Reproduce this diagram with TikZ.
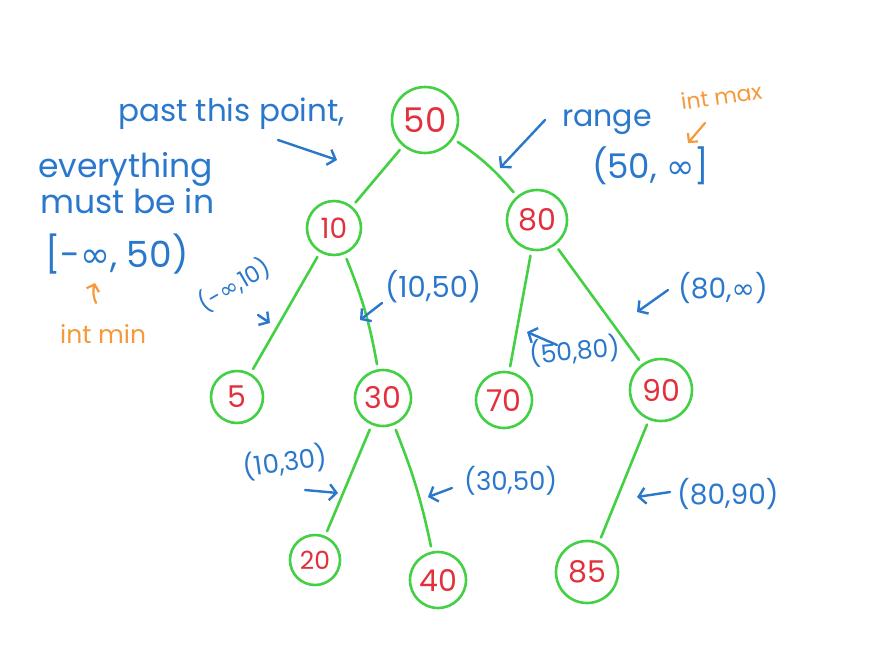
\documentclass[tikz,border=0pt]{standalone}
\usepackage{fontspec}
\setmainfont{Poppins}
\newfontfamily\symfont{DejaVu Sans}
\newcommand{\infsym}{{\symfont ∞}}
\usetikzlibrary{arrows.meta}
\definecolor{tgreen}{HTML}{44D044}
\definecolor{tred}{HTML}{E2303C}
\definecolor{tblue}{HTML}{2A78CC}
\definecolor{torange}{HTML}{F49A3C}
\newcommand{\fsz}[1]{\fontsize{#1}{#1}\selectfont}
\tikzset{
  bst/.style={circle, draw=tgreen, line width=2.6pt, text=tred, inner sep=0pt},
  edge/.style={draw=tgreen, line width=2.6pt, line cap=round, shorten <=5pt, shorten >=5pt},
  note/.style={text=tblue, inner sep=0pt},
  onote/.style={text=torange, inner sep=0pt},
  barrow/.style={draw=tblue, line width=2.4pt, line cap=round, -{Straight Barb[length=7pt,width=16pt]}},
  oarrow/.style={draw=torange, line width=2.2pt, line cap=round, -{Straight Barb[length=6pt,width=13pt]}}
}
\begin{document}
\begin{tikzpicture}[x=1pt,y=1pt]
\useasboundingbox (0,0) rectangle (880,-656);
\fill[white] (0,0) rectangle (880,-656);
% tree nodes
\node[bst, minimum size=66pt, font=\fsz{34}] (n50) at (425,-120) {50};
\node[bst, minimum size=54pt, font=\fsz{28}] (n10) at (334,-228) {10};
\node[bst, minimum size=60pt, font=\fsz{30}] (n80) at (537,-220) {80};
\node[bst, minimum size=52pt, font=\fsz{30}] (n5) at (237,-397) {5};
\node[bst, minimum size=56pt, font=\fsz{30}] (n30) at (383,-398) {30};
\node[bst, minimum size=56pt, font=\fsz{30}] (n70) at (504,-400) {70};
\node[bst, minimum size=62pt, font=\fsz{30}] (n90) at (661,-390) {90};
\node[bst, minimum size=50pt, font=\fsz{25}] (n20) at (315,-560) {20};
\node[bst, minimum size=56pt, font=\fsz{30}] (n40) at (438,-580) {40};
\node[bst, minimum size=62pt, font=\fsz{30}] (n85) at (587,-572) {85};
% edges
\draw[edge] (n50) -- (n10);
\draw[edge] (n50) to[bend left=8] (n80);
\draw[edge] (n10) -- (n5);
\draw[edge] (n10) to[bend left=6] (n30);
\draw[edge] (n80) -- (n70);
\draw[edge] (n80) -- (n90);
\draw[edge] (n30) -- (n20);
\draw[edge] (n30) to[bend left=5] (n40);
\draw[edge] (n90) -- (n85);
% left notes
\node[note, anchor=base west, font=\fsz{31}] (t1) at (118,-121) {past this point,};
\node[note, anchor=base west, font=\fsz{33}] (t2) at (38,-177) {everything};
\node[note, anchor=base west, font=\fsz{33}] (t3) at (40,-213) {must be in};
\node[note, anchor=base west, font=\fsz{36}] (t4) at (45,-267) {[-\infsym, 50)};
\node[onote, anchor=base west, font=\fsz{25}] (t5) at (60,-343) {int min};
\coordinate (a1s) at (278,-140); \coordinate (a1e) at (337,-160);
\draw[barrow] (a1s) -- (a1e);
\coordinate (a2s) at (96,-303); \coordinate (a2e) at (95,-283);
\draw[oarrow] (a2s) to[bend left=20] (a2e);
% right top notes
\node[note, anchor=base west, font=\fsz{30}] (t6) at (562,-126) {range};
\node[note, anchor=base west, font=\fsz{34}] (t7) at (592,-178) {(50, \infsym]};
\node[onote, anchor=base west, font=\fsz{22}, rotate=8] (t8) at (682,-110) {int max};
\coordinate (a3s) at (545,-120); \coordinate (a3e) at (500,-168);
\draw[barrow] (a3s) -- (a3e);
\coordinate (a4s) at (705,-123); \coordinate (a4e) at (688,-143);
\draw[oarrow] (a4s) -- (a4e);
% range labels on edges
\node[note, font=\fsz{23}, rotate=30] (r1) at (234,-285) {(-\infsym,10)};
\coordinate (b1s) at (258,-315); \coordinate (b1e) at (270,-323);
\draw[barrow] (b1s) -- (b1e);
\node[note, anchor=base west, font=\fsz{29}] (r2) at (385,-297) {(10,50)};
\coordinate (b2s) at (382,-303); \coordinate (b2e) at (360,-320);
\draw[barrow] (b2s) -- (b2e);
\node[note, anchor=base west, font=\fsz{28}] (r3) at (678,-298) {(80,\infsym)};
\coordinate (b3s) at (668,-290); \coordinate (b3e) at (637,-312);
\draw[barrow] (b3s) -- (b3e);
\node[note, anchor=base west, font=\fsz{25}, rotate=5] (r4) at (530,-364) {(50,80)};
\coordinate (b4s) at (557,-345); \coordinate (b4e) at (527,-332);
\draw[barrow] (b4s) -- (b4e);
\node[note, font=\fsz{26}, rotate=8] (r5) at (285,-462) {(10,30)};
\coordinate (b5s) at (305,-490); \coordinate (b5e) at (338,-493);
\draw[barrow] (b5s) -- (b5e);
\node[note, anchor=base west, font=\fsz{26}] (r6) at (464,-490) {(30,50)};
\coordinate (b6s) at (452,-488); \coordinate (b6e) at (428,-497);
\draw[barrow] (b6s) -- (b6e);
\node[note, anchor=base west, font=\fsz{28}] (r7) at (677,-504) {(80,90)};
\coordinate (b7s) at (670,-492); \coordinate (b7e) at (637,-497);
\draw[barrow] (b7s) -- (b7e);
\end{tikzpicture}
\end{document}
